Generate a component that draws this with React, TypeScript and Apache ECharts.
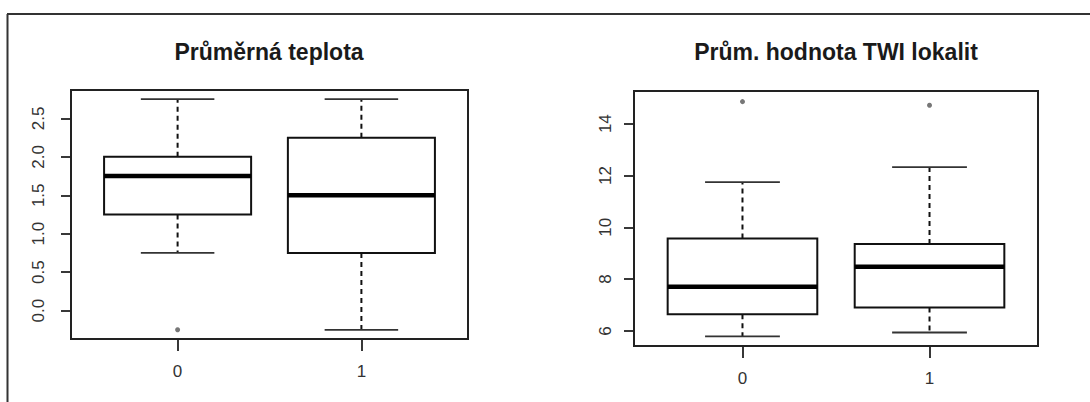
import React, { useEffect, useRef } from "react";
import * as echarts from "echarts";

// ---- data ----
const groups = ["0", "1"];
const tempTitle = "Průměrná teplota";
const twiTitle = "Prům. hodnota TWI lokalit";
// [lowerWhisker, Q1, median, Q3, upperWhisker]
const tempStats = [
  [0.75, 1.25, 1.75, 2.0, 2.75],
  [-0.25, 0.75, 1.5, 2.25, 2.75],
];
const tempOutliers = [[1, -0.25]];
const twiStats = [
  [5.79, 6.65, 7.71, 9.57, 11.74],
  [5.94, 6.91, 8.48, 9.36, 12.32],
];
const twiOutliers = [
  [1, 14.85],
  [2, 14.71],
];
const tempTicks = [0, 0.5, 1, 1.5, 2, 2.5];
const twiTicks = [6, 8, 10, 12, 14];
const xTicks = [1, 2];

const renderBox = (params: any, api: any) => {
  const x = api.value(0);
  const lo = api.value(1);
  const q1 = api.value(2);
  const med = api.value(3);
  const q3 = api.value(4);
  const hi = api.value(5);
  const w = api.size([0.8, 0])[0];
  const c = api.coord([x, 0])[0];
  const y = (v: number) => api.coord([x, v])[1];
  const half = w / 2;
  const cap = w / 4;
  const black = "#111";
  return {
    type: "group",
    children: [
      {
        type: "line",
        shape: { x1: c, y1: y(q3), x2: c, y2: y(hi) },
        style: { stroke: black, lineWidth: 2, lineDash: [5, 4] },
      },
      {
        type: "line",
        shape: { x1: c, y1: y(q1), x2: c, y2: y(lo) },
        style: { stroke: black, lineWidth: 2, lineDash: [5, 4] },
      },
      {
        type: "line",
        shape: { x1: c - cap, y1: y(hi), x2: c + cap, y2: y(hi) },
        style: { stroke: "#333", lineWidth: 1.8 },
      },
      {
        type: "line",
        shape: { x1: c - cap, y1: y(lo), x2: c + cap, y2: y(lo) },
        style: { stroke: "#333", lineWidth: 1.8 },
      },
      {
        type: "rect",
        shape: { x: c - half, y: y(q3), width: w, height: y(q1) - y(q3) },
        style: { fill: "#fff", stroke: black, lineWidth: 2 },
      },
      {
        type: "line",
        shape: { x1: c - half, y1: y(med), x2: c + half, y2: y(med) },
        style: { stroke: "#000", lineWidth: 4.5 },
      },
    ],
  };
};

const boxData = (stats: number[][]) => stats.map((s, i) => [i + 1, ...s]);

export default function App() {
  const ref = useRef<HTMLDivElement>(null);
  useEffect(() => {
    if (!ref.current) return;
    const chart = echarts.init(ref.current, null, { renderer: "svg" });
    const font = "'Liberation Sans', Arial, sans-serif";
    const xAxisBase = (gridIndex: number) => ({
      type: "value",
      gridIndex,
      min: 0.42,
      max: 2.58,
      position: "bottom",
      axisLine: { show: false, onZero: false },
      splitLine: { show: false },
      axisTick: {
        show: true,
        customValues: xTicks,
        length: 12,
        lineStyle: { color: "#222", width: 1.8 },
      },
      axisLabel: {
        customValues: xTicks,
        formatter: (v: number) => groups[Math.round(v) - 1] ?? "",
        fontSize: 17,
        color: "#333",
        fontFamily: font,
        margin: 24,
      },
    });
    const yAxisBase = (gridIndex: number, min: number, max: number, ticks: number[], dec: number, margin: number) => ({
      type: "value",
      gridIndex,
      min,
      max,
      axisLine: { show: false, onZero: false },
      splitLine: { show: false },
      axisTick: {
        show: true,
        customValues: ticks,
        length: 10,
        lineStyle: { color: "#222", width: 1.8 },
      },
      axisLabel: {
        customValues: ticks,
        formatter: (v: number) => v.toFixed(dec),
        rotate: 90,
        fontSize: 17,
        color: "#333",
        fontFamily: font,
        margin,
      },
    });
    chart.setOption({
      animation: false,
      backgroundColor: "#fff",
      grid: [
        { left: 71, top: 90, width: 397, height: 249, show: true, borderColor: "#222", borderWidth: 2, backgroundColor: "transparent" },
        { left: 634, top: 91, width: 404, height: 255, show: true, borderColor: "#222", borderWidth: 2, backgroundColor: "transparent" },
      ],
      xAxis: [xAxisBase(0), xAxisBase(1)],
      yAxis: [
        yAxisBase(0, -0.37, 2.87, tempTicks, 1, 24),
        yAxisBase(1, 5.42, 15.26, twiTicks, 0, 20),
      ],
      series: [
        {
          type: "custom",
          xAxisIndex: 0,
          yAxisIndex: 0,
          renderItem: renderBox,
          encode: { x: 0, y: [1, 2, 3, 4, 5] },
          data: boxData(tempStats),
        },
        {
          type: "custom",
          xAxisIndex: 1,
          yAxisIndex: 1,
          renderItem: renderBox,
          encode: { x: 0, y: [1, 2, 3, 4, 5] },
          data: boxData(twiStats),
        },
        {
          type: "scatter",
          xAxisIndex: 0,
          yAxisIndex: 0,
          symbol: "circle",
          symbolSize: 5,
          itemStyle: { color: "#555" },
          data: tempOutliers,
        },
        {
          type: "scatter",
          xAxisIndex: 1,
          yAxisIndex: 1,
          symbol: "circle",
          symbolSize: 5,
          itemStyle: { color: "#555" },
          data: twiOutliers,
        },
      ],
      graphic: [
        { type: "line", shape: { x1: 7, y1: 14, x2: 1090, y2: 14 }, style: { stroke: "#333", lineWidth: 2 } },
        { type: "line", shape: { x1: 7.5, y1: 14, x2: 7.5, y2: 402 }, style: { stroke: "#333", lineWidth: 2 } },
        {
          type: "text",
          x: 269,
          y: 52,
          style: { text: tempTitle, font: `bold 23px ${font}`, fill: "#1a1a1a", textAlign: "center", textVerticalAlign: "middle" },
        },
        {
          type: "text",
          x: 836,
          y: 52,
          style: { text: twiTitle, font: `bold 23px ${font}`, fill: "#1a1a1a", textAlign: "center", textVerticalAlign: "middle" },
        },
      ],
    });
    return () => chart.dispose();
  }, []);
  return (
    <div
      ref={ref}
      style={{ position: "fixed", left: 0, top: 0, width: 1090, height: 402 }}
    />
  );
}
